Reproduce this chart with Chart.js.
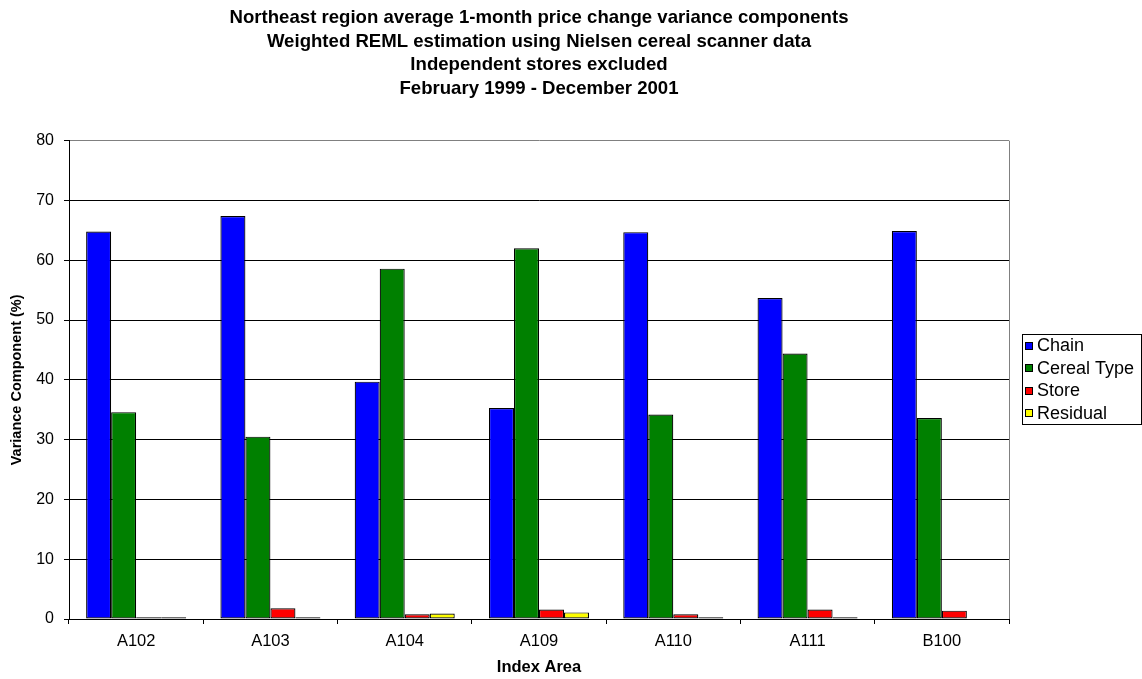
<!DOCTYPE html>
<html>
<head>
<meta charset="utf-8">
<title>Northeast region variance components</title>
<script src="https://cdn.jsdelivr.net/npm/chart.js@4"></script>
<style>
  html, body { margin: 0; padding: 0; background: #fff; }
  canvas { display: block; }
</style>
</head>
<body>
<canvas id="chart" width="1142" height="679"></canvas>
<script>
// Index areas along the category axis
const indexAreas = ['A102', 'A103', 'A104', 'A109', 'A110', 'A111', 'B100'];

// Share of the 1-month price change variance (%) by component
const chainValues      = [64.8, 67.4, 39.7, 35.3, 64.7, 53.7, 64.9];
const cerealTypeValues = [34.6, 30.5, 58.6, 62.0, 34.2, 44.4, 33.6];
const storeValues      = [0.3, 1.8, 0.8, 1.6, 0.8, 1.6, 1.4];
const residualValues   = [0.3, 0.3, 0.9, 1.1, 0.3, 0.3, 0.1];

const seriesNames = ['Chain', 'Cereal Type', 'Store', 'Residual'];
const seriesColors = ['#0000FF', '#008000', '#FF0000', '#FFFF00'];

const titleLines = [
  'Northeast region average 1-month price change variance components',
  'Weighted REML estimation using Nielsen cereal scanner data',
  'Independent stores excluded',
  'February 1999 - December 2001'
];

const yMin = 0, yMax = 80, yStep = 10;

const FONT = "'Liberation Sans', Arial, Helvetica, sans-serif";

// White page, gray plot border on the right, boxed legend on the right
const framePlugin = {
  id: 'frame',
  beforeDraw(chart) {
    const c = chart.ctx;
    c.save();
    c.fillStyle = '#fff';
    c.fillRect(0, 0, chart.width, chart.height);
    c.restore();
  },
  beforeDatasetsDraw(chart) {
    const { ctx: c, chartArea: a } = chart;
    c.save();
    c.strokeStyle = '#808080';
    c.lineWidth = 1;
    c.beginPath();
    c.moveTo(Math.round(a.right) + 0.5, a.top);
    c.lineTo(Math.round(a.right) + 0.5, a.bottom);
    c.stroke();
    c.restore();
  },
  afterDraw(chart) {
    const c = chart.ctx;
    const a = chart.chartArea;
    const ds = chart.data.datasets;
    const rowH = 22.5;
    const boxL = a.right + 13, boxR = chart.width - 1;
    const boxH = 90;
    const cy = (a.top + a.bottom) / 2;
    const boxT = Math.round(cy - boxH / 2) - 1;
    c.save();
    c.strokeStyle = '#000';
    c.lineWidth = 1;
    c.strokeRect(boxL + 0.5, boxT + 0.5, boxR - boxL, boxH);
    c.font = '18px ' + FONT;
    c.textBaseline = 'middle';
    c.textAlign = 'left';
    ds.forEach((d, i) => {
      const y = boxT + 11.5 + i * rowH;
      c.fillStyle = d.backgroundColor;
      c.fillRect(boxL + 3, Math.round(y - 4), 8, 8);
      c.strokeStyle = '#000';
      c.strokeRect(boxL + 3.5, Math.round(y - 4) + 0.5, 7, 7);
      c.fillStyle = '#000';
      c.fillText(d.label, boxL + 15, y + 1);
    });
    c.restore();
  }
};

const valueSets = [chainValues, cerealTypeValues, storeValues, residualValues];

new Chart(document.getElementById('chart'), {
  type: 'bar',
  data: {
    labels: indexAreas,
    datasets: valueSets.map((vals, i) => ({
      label: seriesNames[i],
      data: vals,
      backgroundColor: seriesColors[i],
      borderColor: '#000',
      borderWidth: 1.2,
      borderSkipped: false,
      barPercentage: 1,
      categoryPercentage: 0.745
    }))
  },
  options: {
    responsive: false,
    animation: false,
    devicePixelRatio: 1,
    layout: { padding: { left: 0, right: 133, top: 0, bottom: 0 } },
    plugins: {
      legend: { display: false },
      tooltip: { enabled: false },
      title: {
        display: true,
        fullSize: false,
        text: titleLines,
        color: '#000',
        font: { family: FONT, size: 18.6, weight: 'bold', lineHeight: 1.258 },
        padding: { top: 6.5, bottom: 40.6 }
      }
    },
    scales: {
      x: {
        afterFit(scale) { scale.height = 60; },
        grid: {
          offset: true,
          drawOnChartArea: false,
          drawTicks: true,
          tickLength: 5,
          color: '#000',
          tickColor: '#000'
        },
        border: { display: true, color: '#000', width: 1 },
        ticks: {
          color: '#000',
          padding: 8,
          maxRotation: 0,
          font: { family: FONT, size: 16.5 }
        },
        title: {
          display: true,
          text: 'Index Area',
          color: '#000',
          font: { family: FONT, size: 16.5, weight: 'bold' },
          padding: { top: 0, bottom: 2 }
        }
      },
      y: {
        min: yMin,
        max: yMax,
        afterFit(scale) { scale.width = 69; },
        grid: {
          drawTicks: true,
          tickLength: 5,
          color: (ctx) => (ctx.tick && ctx.tick.value === yMax ? '#808080' : '#000'),
          tickColor: '#000'
        },
        border: { display: true, color: '#000', width: 1 },
        ticks: {
          stepSize: yStep,
          color: '#000',
          padding: 10,
          font: { family: FONT, size: 16 }
        },
        title: {
          display: true,
          text: 'Variance Component (%)',
          color: '#000',
          font: { family: FONT, size: 14.5, weight: 'bold' },
          padding: { top: 8, bottom: 0 }
        }
      }
    }
  },
  plugins: [framePlugin]
});
</script>
</body>
</html>
